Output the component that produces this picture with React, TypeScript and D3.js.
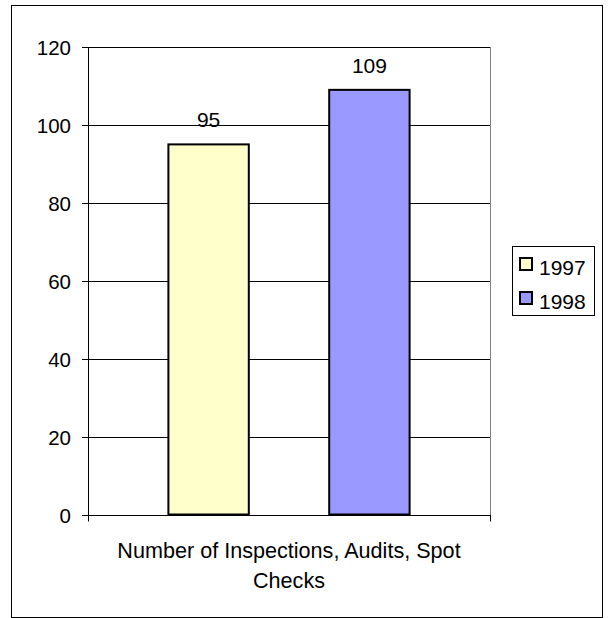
import React from "react";
import * as d3 from "d3";

const categories = ["Number of Inspections, Audits, Spot Checks"];
const categoryLines = ["Number of Inspections, Audits, Spot", "Checks"];
const series = ["1997", "1998"];
const values = [95, 109];
const colors = ["#FFFFCC", "#9999FF"];
const yTicks = [0, 20, 40, 60, 80, 100, 120];

export default function App() {
  const W = 608, H = 618;
  const left = 88, right = 490, top = 47, bottom = 514.5;
  const y = d3.scaleLinear().domain([0, 120]).range([bottom, top]);
  const x = d3.scaleBand().domain(series).range([left, right]).paddingInner(0.5).paddingOuter(0.5);
  const font = "'Liberation Sans', Arial, sans-serif";
  const fs = 21;
  return (
    <svg width={W} height={H} style={{ position: "absolute", left: 0, top: 0 }} fontFamily={font}>
      <rect x={0} y={0} width={W} height={H} fill="#fff" />
      <rect x={11.5} y={5.5} width={591} height={612} fill="#fff" stroke="#000" strokeWidth={1} />
      {yTicks.map((t) => (
        <g key={t}>
          <line x1={left} x2={right} y1={Math.round(y(t)) + 0.5} y2={Math.round(y(t)) + 0.5} stroke="#000" strokeWidth={1} />
          <line x1={left - 6} x2={left} y1={Math.round(y(t)) + 0.5} y2={Math.round(y(t)) + 0.5} stroke="#000" strokeWidth={1} />
          <text x={left - 17} y={y(t) + 8} textAnchor="end" fontSize={fs - 0.5} fill="#000">{t}</text>
        </g>
      ))}
      <line x1={right + 0.5} x2={right + 0.5} y1={top} y2={bottom} stroke="#808080" strokeWidth={1} />
      <line x1={left + 0.5} x2={left + 0.5} y1={top} y2={bottom + 7} stroke="#000" strokeWidth={1} />
      <line x1={right + 0.5} x2={right + 0.5} y1={bottom} y2={bottom + 7} stroke="#000" strokeWidth={1} />
      {series.map((s, i) => {
        const bx = x(s)!;
        const bw = x.bandwidth();
        return (
          <g key={s}>
            <rect x={bx} y={y(values[i])} width={bw} height={y(0) - y(values[i])} fill={colors[i]} stroke="#000" strokeWidth={2} />
            <text x={bx + bw / 2} y={y(values[i]) - 17} textAnchor="middle" fontSize={fs} fill="#000">{values[i]}</text>
          </g>
        );
      })}
      <text textAnchor="middle" fontSize={21.6} fill="#000">
        {categoryLines.map((l, i) => (
          <tspan key={i} x={(left + right) / 2} y={558 + i * 30}>{l}</tspan>
        ))}
      </text>
      <rect x={512.5} y={246.5} width={82} height={69} fill="#fff" stroke="#000" strokeWidth={1} />
      {series.map((s, i) => (
        <g key={s}>
          <rect x={520} y={258 + i * 34} width={12} height={12} fill={colors[i]} stroke="#000" strokeWidth={2} />
          <text x={539} y={275 + i * 34} fontSize={fs} fill="#000">{s}</text>
        </g>
      ))}
    </svg>
  );
}
